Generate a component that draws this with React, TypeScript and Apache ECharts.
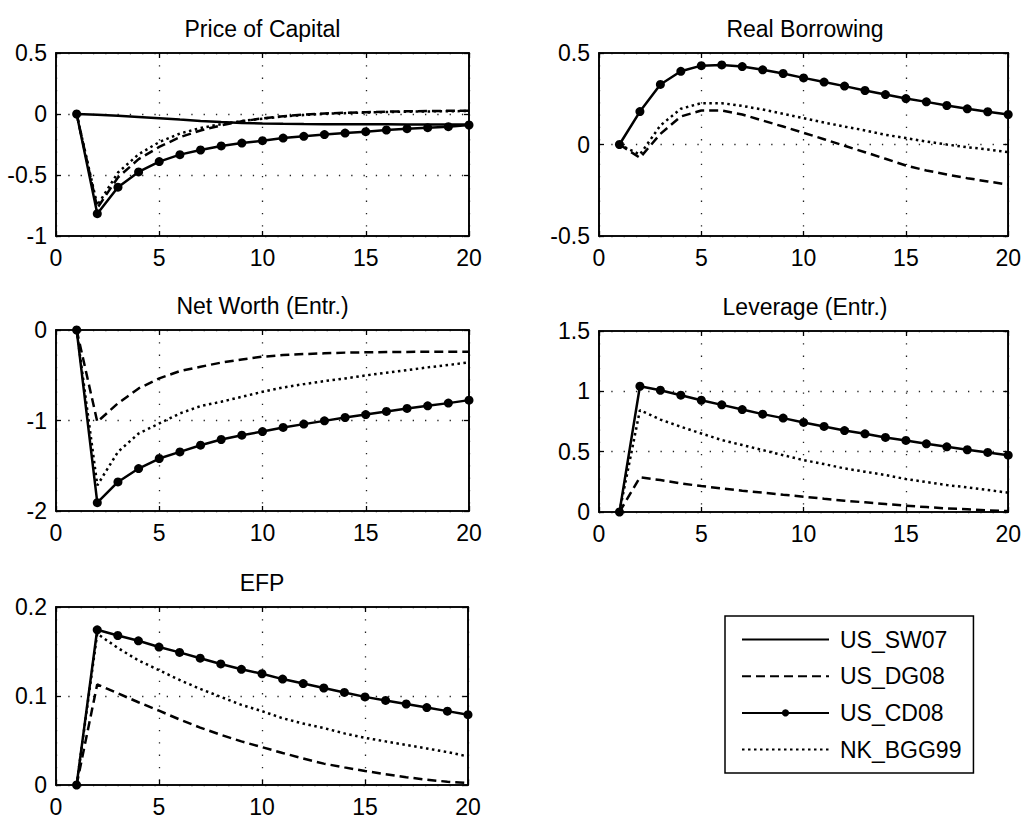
import React, { useEffect, useRef } from "react";
import * as echarts from "echarts";

const periods = [1, 2, 3, 4, 5, 6, 7, 8, 9, 10, 11, 12, 13, 14, 15, 16, 17, 18, 19, 20];
const panelTitles = ["Price of Capital", "Real Borrowing", "Net Worth (Entr.)", "Leverage (Entr.)", "EFP"];
const modelNames = ["US_SW07", "US_DG08", "US_CD08", "NK_BGG99"];
const yMins = [-1, -0.5, -2, 0, 0];
const yMaxs = [0.5, 0.5, 0, 1.5, 0.2];
const ySteps = [0.5, 0.5, 1, 0.5, 0.1];

// Price of Capital
const priceSW07 = [0, -0.006, -0.014, -0.024, -0.034, -0.046, -0.057, -0.066, -0.073, -0.077, -0.08, -0.082, -0.083, -0.084, -0.085, -0.085, -0.086, -0.086, -0.086, -0.086];
const priceDG08 = [0, -0.77, -0.52, -0.37, -0.27, -0.19, -0.135, -0.093, -0.06, -0.036, -0.018, -0.005, 0.004, 0.01, 0.015, 0.019, 0.022, 0.024, 0.026, 0.027];
const priceCD08 = [0, -0.817, -0.6, -0.475, -0.39, -0.333, -0.295, -0.262, -0.238, -0.219, -0.197, -0.183, -0.169, -0.156, -0.145, -0.131, -0.12, -0.112, -0.104, -0.09];
const priceBGG99 = [0, -0.75, -0.48, -0.33, -0.23, -0.16, -0.115, -0.083, -0.058, -0.038, -0.021, -0.008, 0.001, 0.007, 0.012, 0.016, 0.019, 0.021, 0.023, 0.024];

// Real Borrowing
const borrowDG08 = [0, -0.073, 0.058, 0.153, 0.186, 0.186, 0.164, 0.131, 0.098, 0.064, 0.029, -0.007, -0.042, -0.078, -0.115, -0.142, -0.164, -0.184, -0.202, -0.219];
const borrowCD08 = [0, 0.18, 0.328, 0.4, 0.431, 0.435, 0.426, 0.408, 0.388, 0.364, 0.341, 0.319, 0.295, 0.273, 0.251, 0.233, 0.213, 0.195, 0.179, 0.164];
const borrowBGG99 = [0, -0.055, 0.104, 0.195, 0.226, 0.226, 0.211, 0.191, 0.168, 0.144, 0.12, 0.098, 0.077, 0.053, 0.035, 0.016, 0, -0.015, -0.027, -0.042];

// Net Worth (Entr.)
const worthDG08 = [0, -1.015, -0.81, -0.646, -0.535, -0.454, -0.406, -0.36, -0.325, -0.295, -0.277, -0.266, -0.258, -0.25, -0.247, -0.244, -0.242, -0.241, -0.24, -0.24];
const worthCD08 = [0, -1.908, -1.679, -1.531, -1.42, -1.347, -1.273, -1.21, -1.162, -1.122, -1.077, -1.04, -1.004, -0.967, -0.934, -0.9, -0.867, -0.838, -0.808, -0.775];
const worthBGG99 = [0, -1.716, -1.347, -1.144, -1.033, -0.922, -0.841, -0.793, -0.738, -0.683, -0.635, -0.598, -0.565, -0.535, -0.502, -0.472, -0.443, -0.413, -0.387, -0.358];

// Leverage (Entr.)
const levDG08 = [0, 0.287, 0.265, 0.237, 0.215, 0.196, 0.176, 0.16, 0.143, 0.127, 0.11, 0.094, 0.08, 0.066, 0.052, 0.041, 0.03, 0.022, 0.014, 0.008];
const levCD08 = [0, 1.042, 1.009, 0.968, 0.926, 0.888, 0.849, 0.811, 0.778, 0.742, 0.709, 0.675, 0.648, 0.618, 0.593, 0.565, 0.54, 0.516, 0.494, 0.471];
const levBGG99 = [0, 0.844, 0.766, 0.706, 0.651, 0.596, 0.555, 0.513, 0.471, 0.43, 0.397, 0.361, 0.334, 0.306, 0.273, 0.248, 0.223, 0.204, 0.182, 0.16];

// EFP
const efpDG08 = [0, 0.113, 0.103, 0.093, 0.0835, 0.0736, 0.0645, 0.0564, 0.049, 0.0425, 0.036, 0.0297, 0.024, 0.0198, 0.0158, 0.012, 0.0088, 0.0059, 0.0037, 0.0022];
const efpCD08 = [0, 0.1744, 0.168, 0.162, 0.155, 0.149, 0.1425, 0.136, 0.13, 0.125, 0.119, 0.114, 0.109, 0.104, 0.099, 0.095, 0.091, 0.087, 0.083, 0.079];
const efpBGG99 = [0, 0.17, 0.154, 0.14, 0.129, 0.118, 0.108, 0.099, 0.09, 0.083, 0.075, 0.069, 0.064, 0.058, 0.053, 0.049, 0.045, 0.041, 0.037, 0.032];

const panelData: (number[] | null)[][] = [
  [priceSW07, priceDG08, priceCD08, priceBGG99],
  [null, borrowDG08, borrowCD08, borrowBGG99],
  [null, worthDG08, worthCD08, worthBGG99],
  [null, levDG08, levCD08, levBGG99],
  [null, efpDG08, efpCD08, efpBGG99],
];

const FONT = "'Liberation Sans', Arial, Helvetica, sans-serif";
const FS = 23;

const gridBoxes = [
  { left: 56, top: 53, width: 413, height: 183 },
  { left: 599, top: 53, width: 412, height: 183 },
  { left: 56, top: 330, width: 413, height: 181 },
  { left: 599, top: 331, width: 412, height: 181 },
  { left: 56, top: 607, width: 412, height: 182 },
];

const lineStyles: any[] = [
  { type: "solid", symbol: "none" },
  { type: [9, 5], symbol: "none" },
  { type: "solid", symbol: "circle" },
  { type: [2.5, 3.5], symbol: "none" },
];

export default function App() {
  const ref = useRef<HTMLDivElement>(null);
  useEffect(() => {
    document.body.style.margin = "0";
    if (!ref.current) return;
    const chart = echarts.init(ref.current, null, { renderer: "svg" });

    const grids: any[] = [];
    const xAxes: any[] = [];
    const yAxes: any[] = [];
    const titles: any[] = [];
    const series: any[] = [];

    const gridLine = { show: true, lineStyle: { color: "#222", width: 1.3, type: [1.3, 11] } };
    const tick = { show: true, inside: true, length: 5, lineStyle: { color: "#000", width: 1.3 } };
    const axLine = { show: true, onZero: false, lineStyle: { color: "#000", width: 1.6 } };

    gridBoxes.forEach((g, i) => {
      grids.push({ ...g, show: true, borderColor: "#000", borderWidth: 1.6, backgroundColor: "#fff" });
      titles.push({
        text: panelTitles[i],
        left: g.left + g.width / 2,
        top: g.top - 36,
        textAlign: "center",
        padding: 0,
        textStyle: { fontFamily: FONT, fontSize: FS, fontWeight: "normal", color: "#000" },
      });
      xAxes.push({
        type: "value",
        gridIndex: i,
        min: 0,
        max: 20,
        interval: 5,
        position: "bottom",
        axisLine: axLine,
        axisTick: tick,
        axisLabel: { show: true, margin: 10, color: "#000", fontFamily: FONT, fontSize: FS },
        splitLine: gridLine,
      });
      xAxes.push({
        type: "value",
        gridIndex: i,
        min: 0,
        max: 20,
        interval: 5,
        position: "top",
        axisLine: axLine,
        axisTick: tick,
        axisLabel: { show: false },
        splitLine: { show: false },
      });
      yAxes.push({
        type: "value",
        gridIndex: i,
        min: yMins[i],
        max: yMaxs[i],
        interval: ySteps[i],
        position: "left",
        axisLine: axLine,
        axisTick: tick,
        axisLabel: { show: true, margin: 9, color: "#000", fontFamily: FONT, fontSize: FS },
        splitLine: gridLine,
      });
      yAxes.push({
        type: "value",
        gridIndex: i,
        min: yMins[i],
        max: yMaxs[i],
        interval: ySteps[i],
        position: "right",
        axisLine: axLine,
        axisTick: tick,
        axisLabel: { show: false },
        splitLine: { show: false },
      });
      panelData[i].forEach((vals, k) => {
        if (!vals) return;
        const st = lineStyles[k];
        series.push({
          type: "line",
          name: modelNames[k],
          xAxisIndex: 2 * i,
          yAxisIndex: 2 * i,
          data: periods.map((p, j) => [p, vals[j]]),
          symbol: st.symbol,
          symbolSize: 9,
          showSymbol: st.symbol !== "none",
          itemStyle: { color: "#000" },
          lineStyle: { color: "#000", width: 2.5, type: st.type },
          z: 3 + k,
          silent: true,
        });
      });
    });

    const legendData = modelNames.map((n, k) =>
      lineStyles[k].symbol === "none"
        ? { name: n, itemStyle: { color: "rgba(0,0,0,0)", borderWidth: 0, opacity: 0 } }
        : { name: n }
    );

    chart.setOption({
      animation: false,
      backgroundColor: "#fff",
      title: titles,
      grid: grids,
      xAxis: xAxes,
      yAxis: yAxes,
      series,
      legend: {
        show: true,
        orient: "vertical",
        left: 725,
        top: 616,
        data: legendData,
        itemWidth: 87,
        itemHeight: 9,
        itemGap: 13.7,
        padding: [12, 12, 12, 16],
        borderColor: "#000",
        borderWidth: 1.5,
        backgroundColor: "#fff",
        selectedMode: false,
        textStyle: { fontFamily: FONT, fontSize: FS, color: "#000", lineHeight: 23, padding: [0, 0, 0, 6] },
      },
    });
    return () => chart.dispose();
  }, []);
  return <div ref={ref} style={{ width: 1024, height: 818 }} />;
}
